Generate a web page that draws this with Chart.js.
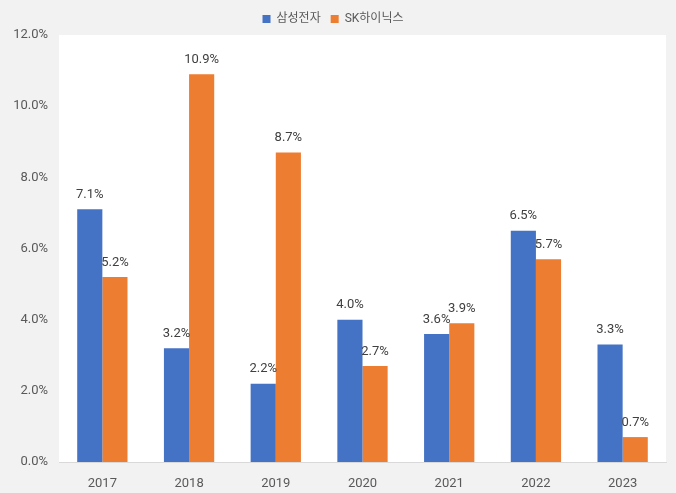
<!DOCTYPE html>
<html>
<head>
<meta charset="utf-8">
<script src="https://cdn.jsdelivr.net/npm/chart.js@4"></script>
<style>
  html, body { margin: 0; padding: 0; background: #f2f2f2; }
  #wrap { width: 676px; height: 493px; }
</style>
</head>
<body>
<div id="wrap"><canvas id="bar-chart"></canvas></div>
<script>
years = ['2017', '2018', '2019', '2020', '2021', '2022', '2023']
samsung = [7.1, 3.2, 2.2, 4.0, 3.6, 6.5, 3.3]
hynix = [5.2, 10.9, 8.7, 2.7, 3.9, 5.7, 0.7]

var fontFamily = "Roboto, 'Noto Sans CJK KR', sans-serif"

// white plot area on grey background
var plotBg = {
    id: 'plotBg',
    beforeDraw: function (chart) {
        var a = chart.chartArea
        var ctx = chart.ctx
        ctx.save()
        ctx.fillStyle = '#f2f2f2'
        ctx.fillRect(0, 0, chart.width, chart.height)
        ctx.fillStyle = '#ffffff'
        ctx.fillRect(a.left, a.top, a.right - a.left, a.bottom - a.top)
        ctx.restore()
    }
}

// value labels above bars
var valueLabels = {
    id: 'valueLabels',
    afterDatasetsDraw: function (chart) {
        var ctx = chart.ctx
        ctx.save()
        ctx.font = "13px " + fontFamily
        ctx.fillStyle = '#404040'
        ctx.textAlign = 'center'
        ctx.textBaseline = 'bottom'
        chart.data.datasets.forEach(function (ds, i) {
            chart.getDatasetMeta(i).data.forEach(function (bar, j) {
                ctx.fillText(ds.data[j].toFixed(1) + '%', bar.x, bar.y - 8)
            })
        })
        ctx.restore()
    }
}

new Chart(document.getElementById("bar-chart"), {
    type: 'bar',
    data: {
        labels: years,
        datasets: [{
            label: '삼성전자',
            data: samsung,
            backgroundColor: '#4472c4',
            barPercentage: 1,
            categoryPercentage: 0.58
        }, {
            label: 'SK하이닉스',
            data: hynix,
            backgroundColor: '#ed7d31',
            barPercentage: 1,
            categoryPercentage: 0.58
        }]
    },
    options: {
        responsive: true,
        maintainAspectRatio: false,
        animation: false,
        layout: { padding: { top: 3, right: 10, bottom: 0, left: 0 } },
        plugins: {
            legend: {
                position: 'top',
                labels: {
                    boxWidth: 8,
                    boxHeight: 8,
                    padding: 10,
                    color: '#595959',
                    font: { family: fontFamily, size: 12 }
                }
            },
            tooltip: { enabled: false }
        },
        scales: {
            x: {
                grid: { display: false },
                border: { display: true, color: '#d9d9d9' },
                ticks: { color: '#595959', font: { family: fontFamily, size: 13 }, padding: 6 },
                afterFit: function (s) { s.height = 31 }
            },
            y: {
                min: 0,
                max: 12,
                grid: { display: false },
                border: { display: false },
                ticks: {
                    stepSize: 2,
                    color: '#595959',
                    font: { family: fontFamily, size: 13 },
                    callback: function (v) { return v.toFixed(1) + '%' }
                },
                afterFit: function (s) { s.width = 59 }
            }
        }
    },
    plugins: [plotBg, valueLabels]
});
</script>
</body>
</html>
